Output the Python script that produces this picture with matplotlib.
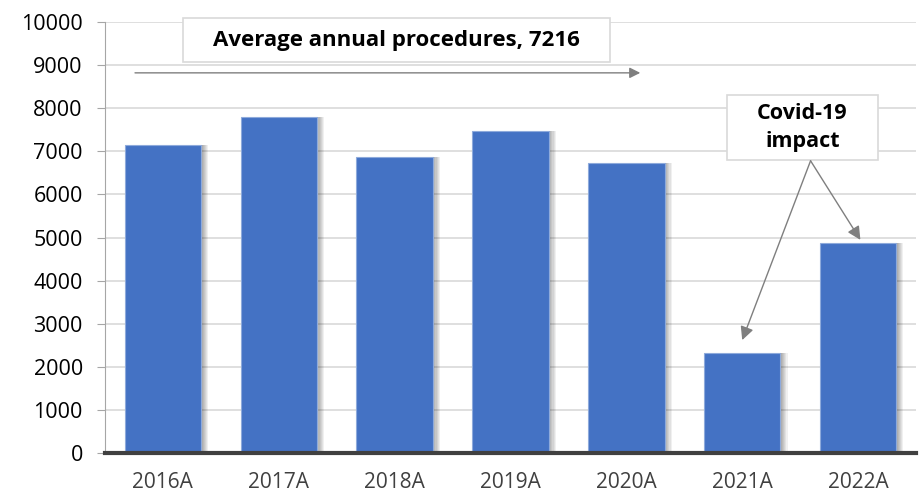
import matplotlib
matplotlib.use('Agg')
import numpy as np
import matplotlib.pyplot as plt
from matplotlib.patches import Rectangle

years = ['2016A', '2017A', '2018A', '2019A', '2020A', '2021A', '2022A']
procedures = [7150, 7800, 6870, 7470, 6730, 2320, 4865]
avg_label = 'Average annual procedures, 7216'
covid_label = 'Covid-19\nimpact'

plt.rcParams['font.family'] = ['Open Sans', 'DejaVu Sans']

fig = plt.figure(figsize=(9.24, 4.97), dpi=100)
ax = fig.add_axes([105 / 924, 44 / 497, 811 / 924, 431 / 497])

x = np.arange(len(years))
width = 0.66
blue = '#4472c4'

# soft drop shadow to the right of each bar
for k in range(6):
    ax.bar(x + 0.012 + k * 0.01, procedures, width, color='black',
           alpha=0.06, zorder=2, linewidth=0)
ax.bar(x, procedures, width, color=blue, edgecolor='#8eaadb',
       linewidth=0.8, zorder=3)

ax.set_xlim(-0.5, len(years) - 0.5)
ax.set_ylim(0, 10000)
ax.set_yticks(np.arange(0, 10001, 1000))
ax.set_xticks(x)
ax.set_xticklabels(years, color='#404040', fontsize=15)
ax.tick_params(axis='y', labelsize=15.5, colors='black', length=6,
               color='#a6a6a6', pad=10)
ax.tick_params(axis='x', length=0, pad=14)
ax.yaxis.grid(True, color='#d9d9d9', linewidth=1.2, zorder=0)
ax.set_axisbelow(True)

for side in ['top', 'right']:
    ax.spines[side].set_visible(False)
ax.spines['left'].set_color('#a6a6a6')
ax.spines['bottom'].set_color('#404040')
ax.spines['bottom'].set_linewidth(3)
ax.spines['bottom'].set_zorder(5)


def text_box(x0, y0, x1, y1, label, size, spacing=1.2):
    ax.add_patch(Rectangle((x0, y0), x1 - x0, y1 - y0, transform=ax.transAxes,
                           fc='white', ec='#d9d9d9', lw=1.2, zorder=6,
                           clip_on=False))
    ax.text((x0 + x1) / 2, (y0 + y1) / 2, label, transform=ax.transAxes,
            ha='center', va='center', fontsize=size, fontweight='bold',
            linespacing=spacing, zorder=7)


# average text box and horizontal arrow
text_box(0.096, 0.907, 0.623, 1.009, avg_label, 16)
ax.annotate('', xy=(0.66, 0.882), xytext=(0.037, 0.882),
            xycoords='axes fraction',
            arrowprops=dict(arrowstyle='-|>', color='#7f7f7f', lw=1,
                            mutation_scale=16, shrinkA=0, shrinkB=0))

# covid annotation with arrows to the last two bars
text_box(0.767, 0.680, 0.953, 0.831, covid_label, 15.5, spacing=1.4)
start = (0.870, 0.678)
ax.annotate('', xy=(5, procedures[5] + 300), xytext=start,
            textcoords='axes fraction',
            arrowprops=dict(arrowstyle='-|>', color='#7f7f7f', lw=1,
                            mutation_scale=20, shrinkA=0, shrinkB=0),
            zorder=6)
ax.annotate('', xy=(6.02, procedures[6] + 80), xytext=start,
            textcoords='axes fraction',
            arrowprops=dict(arrowstyle='-|>', color='#7f7f7f', lw=1,
                            mutation_scale=20, shrinkA=0, shrinkB=0),
            zorder=6)

fig.savefig('out.png', dpi=100)
